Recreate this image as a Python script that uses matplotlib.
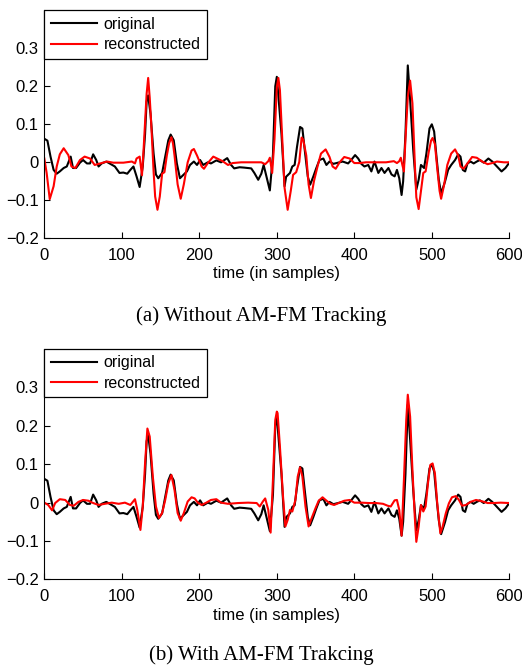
import matplotlib
matplotlib.use("Agg")
import matplotlib.pyplot as plt

# original signal (same in both panels)
orig_t = [0, 4, 8, 12, 16, 20, 25, 29, 34, 37, 41, 46, 50, 55, 59, 63, 67, 70, 74, 80,
          85, 91, 97, 102, 107, 111, 115, 119, 123, 127, 130, 132, 134, 137, 141, 144, 147, 152, 156, 160,
          163, 167, 171, 175, 180, 184, 188, 193, 197, 201, 205, 211, 215, 222, 228, 236, 241, 245, 252, 258,
          267, 271, 276, 280, 283, 287, 291, 295, 298, 300, 303, 306, 310, 312, 317, 320, 323, 326, 330, 333,
          336, 340, 343, 347, 351, 355, 360, 364, 368, 373, 379, 385, 392, 396, 401, 405, 409, 413, 418, 422,
          426, 431, 435, 439, 444, 448, 452, 455, 458, 461, 463, 466, 469, 472, 476, 480, 483, 486, 490, 493,
          497, 500, 503, 506, 509, 512, 517, 521, 525, 530, 534, 537, 540, 543, 546, 550, 554, 558, 562, 567,
          573, 578, 584, 590, 595, 600]
orig_v = [0.062, 0.057, 0.015, -0.02, -0.03, -0.024, -0.015, -0.011, 0.015, -0.015, -0.015, -0.001, 0.006, -0.003, -0.003, 0.021, 0.006, -0.011, -0.003, 0.002,
          -0.004, -0.011, -0.028, -0.027, -0.03, -0.02, -0.011, -0.037, -0.065, -0.011, 0.074, 0.16, 0.176, 0.128, 0.023, -0.032, -0.042, -0.028, 0.015, 0.058,
          0.073, 0.058, -0.003, -0.042, -0.032, -0.024, -0.007, 0.002, -0.007, 0.006, -0.007, 0.0, -0.003, 0.005, 0.0, 0.011, -0.007, -0.016, -0.013, -0.014,
          -0.016, -0.028, -0.046, -0.03, -0.007, -0.04, -0.074, 0.02, 0.2, 0.225, 0.15, 0.075, -0.063, -0.038, -0.028, -0.011, -0.007, 0.04, 0.093, 0.089,
          0.033, -0.038, -0.059, -0.038, -0.015, 0.006, 0.01, -0.007, 0.002, -0.004, -0.001, 0.002, -0.003, 0.006, 0.019, 0.01, -0.004, -0.011, -0.007, -0.024,
          0.002, -0.028, -0.015, -0.028, -0.015, -0.032, -0.037, -0.02, -0.042, -0.086, -0.05, 0.075, 0.255, 0.165, 0.033, -0.072, -0.046, -0.007, -0.015, 0.023,
          0.089, 0.1, 0.081, 0.015, -0.046, -0.082, -0.051, -0.02, -0.007, 0.006, 0.021, 0.015, -0.02, -0.024, -0.003, 0.002, -0.003, 0.002, 0.006, -0.001,
          0.01, 0.002, -0.011, -0.024, -0.015, -0.001]

# reconstruction without AM-FM tracking
reca_t = [0, 3, 7, 12, 16, 20, 25, 31, 35, 40, 46, 52, 59, 65, 72, 81, 89, 102, 113, 117,
          119, 123, 126, 128, 130, 132, 134, 136, 138, 141, 143, 146, 149, 152, 155, 158, 161, 164, 166, 168,
          172, 176, 180, 185, 190, 193, 197, 203, 206, 211, 218, 223, 230, 237, 243, 254, 267, 280, 285, 289,
          291, 294, 297, 300, 302, 304, 307, 310, 314, 318, 321, 325, 329, 332, 334, 338, 341, 344, 348, 353,
          357, 363, 368, 372, 376, 381, 387, 394, 400, 407, 415, 428, 441, 451, 455, 458, 460, 462, 464, 466,
          469, 472, 475, 478, 480, 483, 486, 489, 492, 496, 499, 501, 504, 507, 510, 512, 516, 520, 525, 530,
          534, 537, 541, 547, 552, 558, 565, 572, 578, 584, 593, 600]
reca_v = [0.01, -0.028, -0.097, -0.063, -0.011, 0.021, 0.037, 0.019, -0.011, -0.015, 0.006, 0.015, 0.01, -0.007, -0.003, 0.002, -0.001, -0.001, 0.002, -0.003,
          0.01, 0.015, -0.034, 0.03, 0.104, 0.18, 0.222, 0.17, 0.1, -0.024, -0.09, -0.125, -0.09, -0.03, -0.026, 0.017, 0.05, 0.066, 0.05, 0.018,
          -0.058, -0.096, -0.058, 0.0, 0.031, 0.035, 0.018, -0.011, -0.017, -0.002, 0.015, 0.01, 0.003, -0.007, -0.002, 0.0, 0.0, 0.0, -0.005, 0.003,
          0.012, -0.028, 0.061, 0.198, 0.222, 0.19, 0.061, -0.067, -0.125, -0.075, -0.033, -0.026, 0.001, 0.065, 0.06, 0.018, -0.058, -0.094, -0.049, -0.007,
          0.023, 0.034, 0.014, -0.011, -0.017, 0.0, 0.014, 0.01, -0.002, -0.002, 0.0, 0.0, 0.0, 0.003, -0.002, 0.003, 0.012, -0.007, -0.024, 0.061,
          0.172, 0.215, 0.155, 0.0, -0.092, -0.123, -0.075, -0.028, -0.024, 0.027, 0.057, 0.064, 0.048, -0.016, -0.075, -0.096, -0.058, -0.007, 0.023, 0.034,
          0.018, -0.011, -0.017, 0.0, 0.014, 0.012, 0.002, -0.005, -0.002, 0.002, 0.0, 0.0]

# reconstruction with AM-FM tracking
recb_t = [0, 5, 10, 14, 20, 27, 33, 38, 44, 50, 57, 63, 70, 78, 87, 96, 104, 111, 117, 120,
          124, 127, 130, 133, 136, 140, 144, 148, 152, 156, 160, 164, 168, 172, 176, 180, 185, 190, 194, 198,
          203, 209, 215, 222, 228, 237, 250, 263, 274, 278, 282, 285, 289, 292, 295, 298, 300, 301, 304, 308,
          311, 314, 317, 320, 324, 327, 330, 333, 337, 341, 345, 350, 354, 359, 363, 369, 374, 381, 387, 394,
          400, 409, 419, 428, 437, 443, 447, 452, 455, 458, 461, 464, 467, 469, 472, 475, 478, 480, 483, 486,
          489, 492, 495, 498, 501, 504, 507, 511, 514, 518, 522, 526, 531, 535, 539, 544, 550, 557, 564, 572,
          580, 589, 600]
recb_v = [0.0, -0.006, -0.02, -0.001, 0.009, 0.007, -0.006, -0.008, 0.002, 0.007, 0.005, -0.001, -0.006, -0.003, 0.0, -0.003, 0.0, -0.006, 0.009, -0.019,
          -0.071, -0.01, 0.103, 0.193, 0.172, 0.068, -0.01, -0.04, -0.027, 0.007, 0.05, 0.072, 0.033, -0.027, -0.047, -0.027, 0.003, 0.014, 0.011, 0.0,
          -0.006, 0.0, 0.007, 0.009, 0.0, -0.003, -0.001, 0.0, -0.001, -0.01, 0.003, 0.011, -0.019, -0.078, 0.059, 0.215, 0.237, 0.233, 0.146, 0.016,
          -0.062, -0.045, -0.019, -0.023, 0.007, 0.068, 0.092, 0.068, -0.01, -0.062, -0.04, -0.014, 0.005, 0.014, 0.007, -0.003, -0.006, 0.0, 0.005, 0.007,
          0.0, 0.0, -0.001, -0.001, -0.003, -0.008, -0.01, 0.006, 0.007, -0.019, -0.086, 0.059, 0.215, 0.281, 0.224, 0.085, -0.036, -0.102, -0.062, -0.006,
          -0.023, -0.01, 0.05, 0.098, 0.102, 0.076, -0.002, -0.08, -0.062, -0.028, -0.002, 0.014, 0.017, 0.007, -0.008, -0.006, 0.002, 0.007, 0.004, -0.001,
          -0.001, 0.0, -0.001]

xticks = [0, 100, 200, 300, 400, 500, 600]
yticks = [-0.2, -0.1, 0, 0.1, 0.2, 0.3]
ytick_labels = ["\u22120.2", "\u22120.1", "0", "0.1", "0.2", "0.3"]
captions = ["(a) Without AM-FM Tracking", "(b) With AM-FM Trakcing"]

plt.rcParams["font.family"] = "Liberation Sans"

fig = plt.figure(figsize=(5.22, 6.66), dpi=100)
ax_a = fig.add_axes([0.0849, 0.6422, 0.8908, 0.3423])
ax_b = fig.add_axes([0.0849, 0.1299, 0.8908, 0.3461])

for ax, rec_t, rec_v in [(ax_a, reca_t, reca_v), (ax_b, recb_t, recb_v)]:
    ax.plot(orig_t, orig_v, color="black", lw=1.5, label="original")
    ax.plot(rec_t, rec_v, color="red", lw=1.5, label="reconstructed")
    ax.set_xlim(0, 600)
    ax.set_ylim(-0.2, 0.4)
    ax.set_xticks(xticks)
    ax.set_yticks(yticks)
    ax.set_yticklabels(ytick_labels)
    ax.tick_params(direction="in", length=4, width=0.8, labelsize=12, pad=4)
    ax.tick_params(axis="x", pad=7)
    ax.spines["top"].set_visible(False)
    ax.spines["right"].set_visible(False)
    ax.set_xlabel("time (in samples)", fontsize=12, labelpad=2.5)
    leg = ax.legend(loc="upper left", borderaxespad=0, fontsize=11.5, handlelength=2.9,
                    fancybox=False, framealpha=1, edgecolor="black", borderpad=0.4,
                    labelspacing=0.35, handletextpad=0.4)
    leg.get_frame().set_linewidth(0.9)

fig.text(0.5, 0.5255, captions[0], ha="center", va="center", fontsize=15, family="Liberation Serif")
fig.text(0.5, 0.016, captions[1], ha="center", va="center", fontsize=15, family="Liberation Serif")

fig.savefig("out.png", dpi=100)
